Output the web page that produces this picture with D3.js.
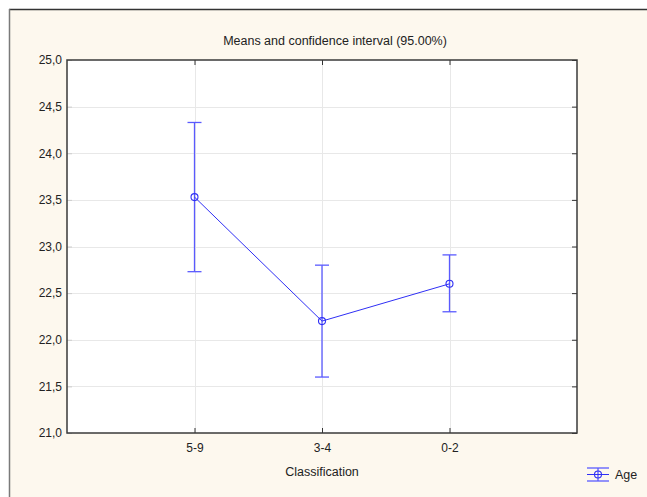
<!DOCTYPE html>
<html>
<head>
<meta charset="utf-8">
<script src="https://cdn.jsdelivr.net/npm/d3@7"></script>
<style>
  body { margin: 0; background: #fff; }
  svg { display: block; font-family: "Liberation Sans", Arial, sans-serif; }
</style>
</head>
<body>
<div id="chart"></div>
<script>
// means and 95% CI for Age by Classification
const categories = ["5-9", "3-4", "0-2"];
const means = [23.53, 22.20, 22.60];
const upper = [24.33, 22.80, 22.91];
const lower = [22.73, 21.60, 22.30];
const yTicks = [21.0, 21.5, 22.0, 22.5, 23.0, 23.5, 24.0, 24.5, 25.0];

const width = 647, height = 497;
const margin = { left: 67, right: 70, top: 60, bottom: 64 };
const lineColor = "#2f2ff5";
const barColor = "#5a5aff";

const svg = d3.select("#chart").append("svg")
  .attr("width", width).attr("height", height);

// outer panel
svg.append("rect").attr("x", 9).attr("y", 9).attr("width", width - 9).attr("height", height - 9)
  .attr("fill", "#fdf8ee");
svg.append("line").attr("x1", 9).attr("x2", width).attr("y1", 9.5).attr("y2", 9.5)
  .attr("stroke", "#333").attr("stroke-width", 1.5);
svg.append("line").attr("x1", 9.5).attr("x2", 9.5).attr("y1", 9).attr("y2", height)
  .attr("stroke", "#7a7a7a").attr("stroke-width", 1.5);

const x = d3.scalePoint().domain(categories).range([margin.left, width - margin.right]).padding(1);
const y = d3.scaleLinear().domain([21, 25]).range([height - margin.bottom, margin.top]);

const plot = svg.append("g");
plot.append("rect")
  .attr("x", margin.left).attr("y", margin.top)
  .attr("width", width - margin.left - margin.right)
  .attr("height", height - margin.top - margin.bottom)
  .attr("fill", "#fff");

// grid
plot.selectAll(".hgrid").data(yTicks.slice(1, -1)).enter().append("line")
  .attr("x1", margin.left).attr("x2", width - margin.right)
  .attr("y1", d => Math.round(y(d)) + 0.5).attr("y2", d => Math.round(y(d)) + 0.5)
  .attr("stroke", "#e8e8e8");
plot.selectAll(".vgrid").data(categories).enter().append("line")
  .attr("y1", margin.top).attr("y2", height - margin.bottom)
  .attr("x1", d => Math.round(x(d)) + 0.5).attr("x2", d => Math.round(x(d)) + 0.5)
  .attr("stroke", "#e8e8e8");

// axes with inward ticks
const yAxisL = d3.axisLeft(y).tickValues(yTicks).tickSizeInner(-5).tickSizeOuter(0)
  .tickFormat(d => d3.format(".1f")(d).replace(".", ","));
svg.append("g").attr("transform", `translate(${margin.left},0)`).call(yAxisL)
  .call(g => g.select(".domain").remove())
  .call(g => g.selectAll(".tick line").attr("stroke", "#ccc"))
  .call(g => g.selectAll("text").attr("x", -5).attr("font-size", 12).attr("fill", "#222").attr("font-family", "Liberation Sans, Arial"));

const yAxisR = d3.axisRight(y).tickValues(yTicks).tickSizeInner(-5).tickSizeOuter(0).tickFormat("");
svg.append("g").attr("transform", `translate(${width - margin.right},0)`).call(yAxisR)
  .call(g => g.select(".domain").remove())
  .call(g => g.selectAll(".tick line").attr("stroke", "#333"));

const xAxisB = d3.axisBottom(x).tickSizeInner(-5).tickSizeOuter(0);
svg.append("g").attr("transform", `translate(0,${height - margin.bottom})`).call(xAxisB)
  .call(g => g.select(".domain").remove())
  .call(g => g.selectAll(".tick line").attr("stroke", "#333"))
  .call(g => g.selectAll("text").attr("y", 10).attr("font-size", 12).attr("fill", "#222").attr("font-family", "Liberation Sans, Arial"));

const xAxisT = d3.axisTop(x).tickSizeInner(-5).tickSizeOuter(0).tickFormat("");
svg.append("g").attr("transform", `translate(0,${margin.top})`).call(xAxisT)
  .call(g => g.select(".domain").remove())
  .call(g => g.selectAll(".tick line").attr("stroke", "#333"));

// plot frame
svg.append("rect")
  .attr("x", margin.left).attr("y", margin.top)
  .attr("width", width - margin.left - margin.right)
  .attr("height", height - margin.top - margin.bottom)
  .attr("fill", "none").attr("stroke", "#3a3a3a").attr("stroke-width", 1.5);

// error bars
const capW = 7;
const bars = svg.append("g").selectAll("g").data(categories).enter().append("g");
bars.append("line")
  .attr("x1", d => x(d)).attr("x2", d => x(d))
  .attr("y1", (d, i) => y(upper[i])).attr("y2", (d, i) => y(lower[i]))
  .attr("stroke", barColor).attr("stroke-width", 1.3);
bars.append("line")
  .attr("x1", d => x(d) - capW).attr("x2", d => x(d) + capW)
  .attr("y1", (d, i) => y(upper[i])).attr("y2", (d, i) => y(upper[i]))
  .attr("stroke", barColor).attr("stroke-width", 1.3);
bars.append("line")
  .attr("x1", d => x(d) - capW).attr("x2", d => x(d) + capW)
  .attr("y1", (d, i) => y(lower[i])).attr("y2", (d, i) => y(lower[i]))
  .attr("stroke", barColor).attr("stroke-width", 1.3);

// mean line
const line = d3.line().x((d, i) => x(categories[i])).y(d => y(d));
svg.append("path").datum(means).attr("d", line)
  .attr("fill", "none").attr("stroke", lineColor).attr("stroke-width", 1);

svg.append("g").selectAll("circle").data(means).enter().append("circle")
  .attr("cx", (d, i) => x(categories[i])).attr("cy", d => y(d)).attr("r", 3.5)
  .attr("fill", "none").attr("stroke", lineColor).attr("stroke-width", 1.1);

// title and axis label
svg.append("text").attr("x", 335).attr("y", 45).attr("text-anchor", "middle")
  .attr("font-size", 12.5).attr("fill", "#222").text("Means and confidence interval (95.00%)");
svg.append("text").attr("x", (margin.left + width - margin.right) / 2).attr("y", 476)
  .attr("text-anchor", "middle").attr("font-size", 12.5).attr("fill", "#222").text("Classification");

// legend
const lg = svg.append("g").attr("transform", "translate(598,474.5)");
lg.append("line").attr("x1", -11).attr("x2", 11).attr("y1", -6.5).attr("y2", -6.5).attr("stroke", barColor).attr("stroke-width", 1.3);
lg.append("line").attr("x1", -11).attr("x2", 11).attr("y1", 6.5).attr("y2", 6.5).attr("stroke", barColor).attr("stroke-width", 1.3);
lg.append("line").attr("x1", 0).attr("x2", 0).attr("y1", -6.5).attr("y2", 6.5).attr("stroke", barColor).attr("stroke-width", 1.3);
lg.append("line").attr("x1", -11).attr("x2", 11).attr("y1", 0).attr("y2", 0).attr("stroke", lineColor).attr("stroke-width", 1);
lg.append("circle").attr("r", 3.5).attr("fill", "none").attr("stroke", lineColor).attr("stroke-width", 1.1);
svg.append("text").attr("x", 615).attr("y", 479).attr("font-size", 12.5).attr("fill", "#222").text("Age");
</script>
</body>
</html>
